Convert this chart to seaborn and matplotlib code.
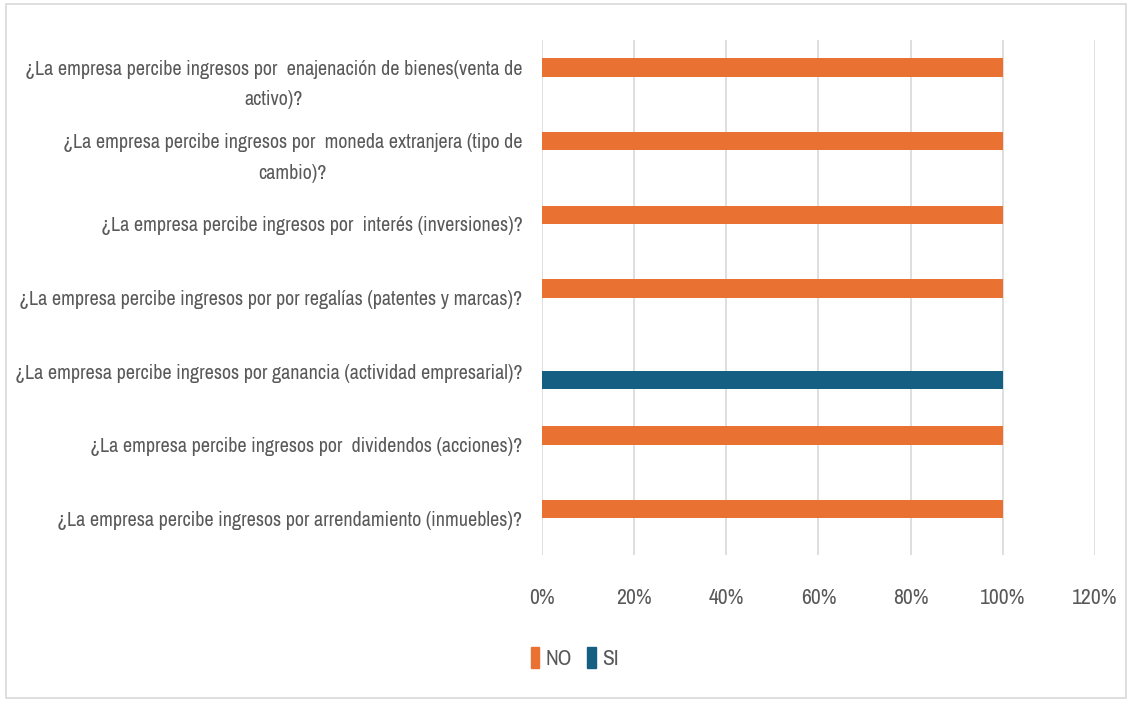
import matplotlib
matplotlib.use("Agg")
import matplotlib.pyplot as plt
import matplotlib.patches as mpatches
import seaborn as sns
import pandas as pd
from matplotlib.ticker import PercentFormatter
from matplotlib import font_manager

categories = [
    "¿La empresa percibe ingresos por  enajenación de bienes(venta de\nactivo)?",
    "¿La empresa percibe ingresos por  moneda extranjera (tipo de\ncambio)?",
    "¿La empresa percibe ingresos por  interés (inversiones)?",
    "¿La empresa percibe ingresos por por regalías (patentes y marcas)?",
    "¿La empresa percibe ingresos por ganancia (actividad empresarial)?",
    "¿La empresa percibe ingresos por  dividendos (acciones)?",
    "¿La empresa percibe ingresos por arrendamiento (inmuebles)?",
]
no_values = [1.0, 1.0, 1.0, 1.0, 0.0, 1.0, 1.0]
si_values = [0.0, 0.0, 0.0, 0.0, 1.0, 0.0, 0.0]
series_names = ["NO", "SI"]
x_ticks = [0.0, 0.2, 0.4, 0.6, 0.8, 1.0, 1.2]

colors = {"NO": "#E97132", "SI": "#156082"}
text_color = "#595959"

sns.set_theme(style="white")

# look for a narrow / condensed font, otherwise fall back to a sans family
cond_names = []
for f in font_manager.fontManager.ttflist:
    n = f.name
    st = str(f.stretch)
    if ("Condensed" in n or "Narrow" in n or st in ("condensed", "semi-condensed", "extra-condensed", "ultra-condensed")) \
            and f.style == "normal" and f.weight in (400, "normal", "regular"):
        cond_names.append((n, st, f.fname))
if cond_names:
    cond_names.sort(key=lambda t: (0 if "Narrow" in t[0] else 1, t[0]))
    chosen_prop = font_manager.FontProperties(fname=cond_names[0][2])
    fam = chosen_prop.get_name()
else:
    fam = "Roboto"
plt.rcParams["font.family"] = [fam, "DejaVu Sans"]

df = pd.DataFrame({
    "Pregunta": categories * 2,
    "Respuesta": ["NO"] * len(categories) + ["SI"] * len(categories),
    "Valor": no_values + si_values,
})

fig = plt.figure(figsize=(11.32, 7.02), dpi=100)
ax = fig.add_axes([0.4788, 0.2094, 0.4885, 0.7336])

sns.barplot(data=df, y="Pregunta", x="Valor", hue="Respuesta",
            hue_order=series_names, order=categories, palette=colors,
            orient="h", width=0.5, ax=ax, legend=False, errorbar=None,
            saturation=1, linewidth=0)

ax.set_xlim(0, 1.2)
ax.set_xticks(x_ticks)
ax.xaxis.set_major_formatter(PercentFormatter(1.0, decimals=0))
ax.set_xlabel("")
ax.set_ylabel("")
ax.grid(axis="x", color="#D9D9D9", linewidth=1.2)
ax.set_axisbelow(True)
for s in ax.spines.values():
    s.set_visible(False)

size = 16
ax.tick_params(axis="x", length=0, pad=24, labelsize=size, labelcolor=text_color)
ax.tick_params(axis="y", length=0, pad=14, labelsize=size, labelcolor=text_color)
for lbl in ax.get_yticklabels():
    lbl.set_multialignment("center")
    lbl.set_linespacing(1.75)

# fit the widest category label into the space the reference gives it (~510 px)
fig.canvas.draw()
r = fig.canvas.get_renderer()
wmax = max(l.get_window_extent(r).width for l in ax.get_yticklabels())
size = min(18, size * 508.0 / wmax)
ax.tick_params(axis="y", labelsize=size)
ax.tick_params(axis="x", labelsize=min(size * 1.08, 18))

handles = [mpatches.Patch(color=colors[n], label=n) for n in series_names]
fig.legend(handles=handles, loc="center", bbox_to_anchor=(575 / 1132, 1 - 658 / 702),
           ncol=2, frameon=False, fontsize=min(size * 1.08, 18), handlelength=0.4,
           handleheight=1.1, handletextpad=0.3, columnspacing=0.7, labelcolor=text_color)

border = mpatches.Rectangle((6 / 1132, 4 / 702), 1 - 12 / 1132, 1 - 8 / 702,
                            transform=fig.transFigure, fill=False,
                            edgecolor="#D9D9D9", linewidth=1.2)
fig.patches.append(border)

fig.savefig("out.png", dpi=100)
